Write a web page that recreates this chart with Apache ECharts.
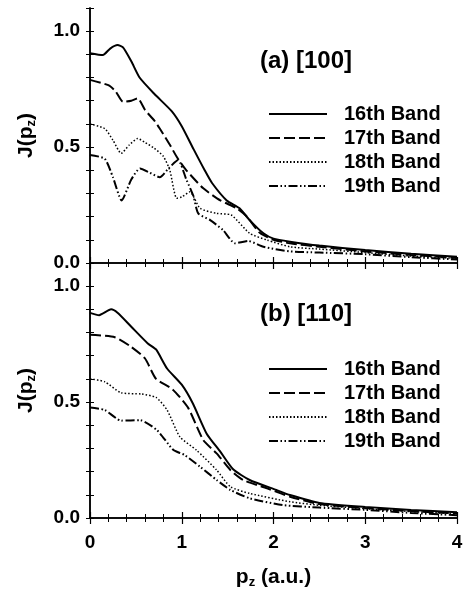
<!DOCTYPE html>
<html>
<head>
<meta charset="utf-8">
<script src="https://cdn.jsdelivr.net/npm/echarts@6/dist/echarts.min.js"></script>
<style>
  html, body { margin: 0; padding: 0; background: #fff; }
  #chart { width: 466px; height: 591px; }
</style>
</head>
<body>
<div id="chart"></div>
<script>
// band names and panel labels
const bandNames = ['16th Band', '17th Band', '18th Band', '19th Band'];
const panelTitles = ['(a) [100]', '(b) [110]'];
const xTickLabels = [0, 1, 2, 3, 4];
const yTickLabels = ['0.0', '0.5', '1.0'];

// panel (a) [100] : [pz, J]
const a16 = [[0,0.905],[0.14,0.897],[0.22,0.925],[0.3,0.94],[0.36,0.93],[0.45,0.87],[0.54,0.80],[0.7,0.73],[0.89,0.655],[1.0,0.59],[1.13,0.49],[1.25,0.40],[1.33,0.345],[1.49,0.27],[1.63,0.236],[1.74,0.185],[1.89,0.128],[2.0,0.105],[2.18,0.092],[2.5,0.075],[3.0,0.056],[3.5,0.04],[4,0.027]];
const a17 = [[0,0.79],[0.2,0.767],[0.28,0.74],[0.36,0.695],[0.45,0.70],[0.52,0.71],[0.6,0.66],[0.7,0.615],[0.76,0.58],[0.87,0.51],[0.95,0.455],[1.05,0.40],[1.235,0.322],[1.42,0.27],[1.6,0.236],[1.71,0.2],[1.85,0.13],[2.0,0.1],[2.18,0.085],[2.5,0.07],[3.0,0.05],[3.5,0.035],[4,0.022]];
const a18 = [[0,0.60],[0.16,0.58],[0.25,0.53],[0.34,0.473],[0.43,0.51],[0.52,0.537],[0.6,0.52],[0.7,0.495],[0.8,0.46],[0.87,0.40],[0.945,0.279],[1.0,0.285],[1.09,0.307],[1.2,0.236],[1.38,0.214],[1.54,0.207],[1.74,0.128],[1.93,0.099],[2.18,0.07],[2.5,0.06],[3,0.045],[3.5,0.03],[4,0.02]];
const a19 = [[0,0.466],[0.16,0.45],[0.25,0.37],[0.345,0.27],[0.45,0.36],[0.545,0.408],[0.65,0.39],[0.76,0.37],[0.86,0.41],[0.96,0.444],[1.05,0.36],[1.126,0.29],[1.18,0.214],[1.31,0.185],[1.45,0.142],[1.58,0.085],[1.725,0.095],[1.89,0.07],[2.18,0.05],[2.5,0.045],[3,0.038],[3.5,0.025],[4,0.015]];

// panel (b) [110]
const b16 = [[0,0.885],[0.1,0.875],[0.23,0.90],[0.3,0.885],[0.45,0.825],[0.63,0.753],[0.72,0.727],[0.84,0.645],[1.0,0.575],[1.12,0.495],[1.27,0.365],[1.42,0.286],[1.56,0.21],[1.74,0.164],[2.03,0.121],[2.18,0.099],[2.5,0.065],[3.0,0.048],[3.5,0.035],[4,0.025]];
const b17 = [[0,0.79],[0.27,0.78],[0.45,0.738],[0.6,0.688],[0.72,0.6],[0.9,0.555],[1.07,0.475],[1.235,0.336],[1.38,0.279],[1.53,0.207],[1.67,0.164],[1.93,0.128],[2.18,0.092],[2.5,0.06],[3,0.043],[3.5,0.03],[4,0.02]];
const b18 = [[0,0.60],[0.16,0.588],[0.34,0.54],[0.56,0.535],[0.72,0.52],[0.84,0.466],[0.98,0.35],[1.16,0.293],[1.38,0.207],[1.53,0.135],[1.74,0.106],[2.18,0.07],[2.5,0.055],[3,0.04],[3.5,0.028],[4,0.018]];
const b19 = [[0,0.477],[0.16,0.466],[0.34,0.42],[0.545,0.422],[0.73,0.379],[0.91,0.293],[1.03,0.272],[1.2,0.221],[1.38,0.164],[1.53,0.121],[1.74,0.085],[2.1,0.056],[2.5,0.045],[3,0.035],[3.5,0.022],[4,0.012]];

const panelData = [[a16, a17, a18, a19], [b16, b17, b18, b19]];

const font = 'Liberation Sans, Arial, sans-serif';
const lineStyles = [
  { type: 'solid', width: 2 },
  { type: [11, 4], width: 2 },
  { type: [1.5, 2], width: 1.5 },
  { type: [9, 2.5, 1.5, 2.5, 1.5, 2.5], width: 2 }
];

const axisLine = { show: true, lineStyle: { color: '#000', width: 1.5 } };
const subRich = {
  b: { fontFamily: font, fontSize: 21, fontWeight: 'bold', color: '#000' },
  s: { fontFamily: font, fontSize: 13, fontWeight: 'bold', color: '#000', padding: [10, 0, 0, 0] }
};

const chart = echarts.init(document.getElementById('chart'));

const xAxes = [];
const yAxes = [];
[0, 1].forEach((g) => {
  const isBottom = g === 1;
  // bottom x axis
  xAxes.push({
    type: 'value', gridIndex: g, position: 'bottom', min: 0, max: 4, interval: 1,
    axisLine, splitLine: { show: false },
    axisTick: { show: true, inside: true, length: 6, lineStyle: { color: '#000', width: 1.2 } },
    minorTick: { show: true, splitNumber: 5, length: 4, lineStyle: { color: '#000', width: 1 } },
    axisLabel: {
      show: isBottom, margin: 15, color: '#000', fontFamily: font, fontSize: 19, fontWeight: 'bold',
      formatter: (v) => (xTickLabels.includes(v) ? String(v) : '')
    },
    name: isBottom ? '{b|p}{s|z}{b| (a.u.)}' : '',
    nameLocation: 'middle', nameGap: 48,
    nameTextStyle: { rich: subRich }
  });
  // top x axis (mirror)
  xAxes.push({
    type: 'value', gridIndex: g, position: 'top', min: 0, max: 4, interval: 1,
    axisLine, splitLine: { show: false }, axisLabel: { show: false },
    axisTick: { show: true, inside: true, length: 6, lineStyle: { color: '#000', width: 1.2 } },
    minorTick: { show: true, splitNumber: 5, length: 4, lineStyle: { color: '#000', width: 1 } }
  });
  // left y axis
  yAxes.push({
    type: 'value', gridIndex: g, position: 'left', min: 0, max: 1.1, interval: 0.1,
    axisLine, splitLine: { show: false },
    axisTick: { show: true, inside: true, length: 4, lineStyle: { color: '#000', width: 1 } },
    axisLabel: {
      margin: 10, color: '#000', fontFamily: font, fontSize: 19, fontWeight: 'bold',
      formatter: (v) => {
        const s = v.toFixed(1);
        return yTickLabels.includes(s) ? s : '';
      }
    },
    name: '{b|J(p}{s|z}{b|)}',
    nameLocation: 'middle', nameRotate: 90, nameGap: 52,
    nameTextStyle: { rich: subRich }
  });
  // right y axis (mirror)
  yAxes.push({
    type: 'value', gridIndex: g, position: 'right', min: 0, max: 1.1, interval: 0.1,
    axisLine, splitLine: { show: false }, axisLabel: { show: false },
    axisTick: { show: true, inside: true, length: 4, lineStyle: { color: '#000', width: 1 } }
  });
});

const series = [];
panelData.forEach((bands, g) => {
  bands.forEach((data, i) => {
    series.push({
      name: bandNames[i],
      type: 'line',
      xAxisIndex: g * 2,
      yAxisIndex: g * 2,
      data: data,
      showSymbol: false,
      symbol: 'none',
      smooth: 0.2,
      lineStyle: Object.assign({ color: '#000' }, lineStyles[i]),
      itemStyle: { color: '#000' },
      animation: false
    });
  });
});

const legendBase = {
  orient: 'vertical', left: 268, itemWidth: 58, itemHeight: 14, itemGap: 4, padding: 0,
  data: bandNames, selectedMode: false,
  itemStyle: { color: 'rgba(0,0,0,0)', borderColor: 'rgba(0,0,0,0)', borderWidth: 0 },
  textStyle: { fontFamily: font, fontSize: 20, fontWeight: 'bold', color: '#000', padding: [0, 0, 0, 12] }
};

const option = {
  backgroundColor: '#fff',
  animation: false,
  title: [
    { text: panelTitles[0], left: 260, top: 49, padding: 0,
      textStyle: { fontFamily: font, fontSize: 24, fontWeight: 'bold', color: '#000' } },
    { text: panelTitles[1], left: 260, top: 302, padding: 0,
      textStyle: { fontFamily: font, fontSize: 24, fontWeight: 'bold', color: '#000' } }
  ],
  legend: [
    Object.assign({ top: 104 }, legendBase),
    Object.assign({ top: 359 }, legendBase)
  ],
  grid: [
    { left: 90, right: 9, top: 8, height: 255 },
    { left: 90, right: 9, top: 263, height: 255 }
  ],
  xAxis: xAxes,
  yAxis: yAxes,
  series: series
};

chart.setOption(option);
</script>
</body>
</html>
